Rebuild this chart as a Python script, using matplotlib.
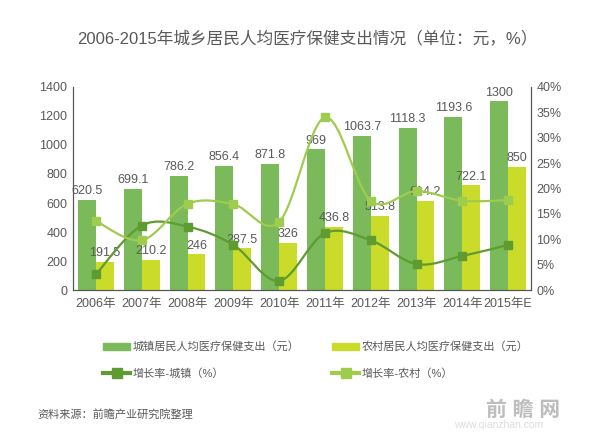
import matplotlib.pyplot as plt
from matplotlib.path import Path
from matplotlib.patches import PathPatch, Patch
from matplotlib.lines import Line2D

plt.rcParams['font.family'] = ['Liberation Sans', 'Noto Sans CJK SC', 'DejaVu Sans']

years = ['2006年', '2007年', '2008年', '2009年', '2010年',
         '2011年', '2012年', '2013年', '2014年', '2015年E']
urban = [620.5, 699.1, 786.2, 856.4, 871.8, 969, 1063.7, 1118.3, 1193.6, 1300]
rural = [191.5, 210.2, 246, 287.5, 326, 436.8, 513.8, 614.2, 722.1, 850]
urban_growth = [3.1, 12.7, 12.5, 8.9, 1.8, 11.2, 9.8, 5.1, 6.7, 8.9]
rural_growth = [13.6, 9.8, 17.0, 16.9, 13.4, 34.0, 17.6, 19.5, 17.6, 17.7]

c_urban = '#7aba5b'
c_rural = '#cbdb2a'
c_ug = '#5f9b30'
c_rg = '#9fcc4f'
grey = '#595959'


def smooth_path(xs, ys):
    # Excel-style smoothed line as cubic Bezier segments
    verts = [(xs[0], ys[0])]
    codes = [Path.MOVETO]
    n = len(xs)
    for i in range(n - 1):
        x0, y0 = (xs[i - 1], ys[i - 1]) if i > 0 else (xs[i], ys[i])
        x1, y1 = xs[i], ys[i]
        x2, y2 = xs[i + 1], ys[i + 1]
        x3, y3 = (xs[i + 2], ys[i + 2]) if i + 2 < n else (x2, y2)
        verts += [(x1 + (x2 - x0) / 6, y1 + (y2 - y0) / 6),
                  (x2 - (x3 - x1) / 6, y2 - (y3 - y1) / 6),
                  (x2, y2)]
        codes += [Path.CURVE4] * 3
    return Path(verts, codes)


fig = plt.figure(figsize=(6, 4.47), dpi=100)
ax = fig.add_axes([0.1217, 0.3512, 0.7633, 0.4542])
ax2 = ax.twinx()

x = list(range(len(years)))
w = 0.39
b1 = ax.bar([i - w / 2 for i in x], urban, w, color=c_urban, zorder=2)
b2 = ax.bar([i + w / 2 for i in x], rural, w, color=c_rural, zorder=2)
for bars, vals in ((b1, urban), (b2, rural)):
    for r, v in zip(bars, vals):
        ax.annotate(f'{v:g}', (r.get_x() + r.get_width() / 2, v),
                    xytext=(0, 2), textcoords='offset points',
                    ha='center', va='bottom', fontsize=9, color=grey, zorder=5)

for vals, col in ((urban_growth, c_ug), (rural_growth, c_rg)):
    ax2.add_patch(PathPatch(smooth_path(x, vals), fill=False, edgecolor=col, lw=1.6))
    ax2.plot(x, vals, ls='none', marker='s', ms=5.5, color=col)

ax.set_xlim(-0.5, len(years) - 0.5)
ax.set_ylim(0, 1400)
ax.set_yticks(range(0, 1401, 200))
ax2.set_ylim(0, 40)
ax2.set_yticks(range(0, 41, 5))
ax2.set_yticklabels([f'{t}%' for t in range(0, 41, 5)])
ax.set_xticks(x)
ax.set_xticklabels(years)

for a in (ax, ax2):
    a.spines['top'].set_visible(False)
    a.spines['left'].set_color('#555555')
    a.spines['right'].set_color('#555555')
    a.spines['bottom'].set_color('#555555')
    a.tick_params(length=0, labelsize=9, labelcolor=grey, pad=4)
ax.tick_params(axis='x', pad=6)

fig.text(0.513, 0.915, '2006-2015年城乡居民人均医疗保健支出情况（单位：元，%）',
         ha='center', va='center', fontsize=12, color=grey)

handles = [Patch(color=c_urban),
           Line2D([], [], color=c_ug, lw=3, marker='s', ms=7),
           Patch(color=c_rural),
           Line2D([], [], color=c_rg, lw=3, marker='s', ms=7)]
labels = ['城镇居民人均医疗保健支出（元）', '增长率-城镇（%）',
          '农村居民人均医疗保健支出（元）', '增长率-农村（%）']
fig.legend(handles, labels, ncol=2, loc='upper left', bbox_to_anchor=(0.172, 0.236),
           frameon=False, fontsize=8, labelcolor=grey, handlelength=2.4,
           handleheight=0.6, handletextpad=0.2, columnspacing=3.0, labelspacing=1.45,
           borderpad=0, borderaxespad=0)
fig.text(0.063, 0.073, '资料来源：前瞻产业研究院整理', fontsize=8, color=grey, va='center')

# watermark
fig.text(0.81, 0.083, '前 瞻 网', fontsize=15, color='#bdbdbd', ha='left', va='center',
         fontweight='bold')
fig.text(0.756, 0.049, 'www.qianzhan.com', fontsize=7.5, color='#dddddd', ha='left', va='center')

fig.savefig('out.png', dpi=100, facecolor='white')
